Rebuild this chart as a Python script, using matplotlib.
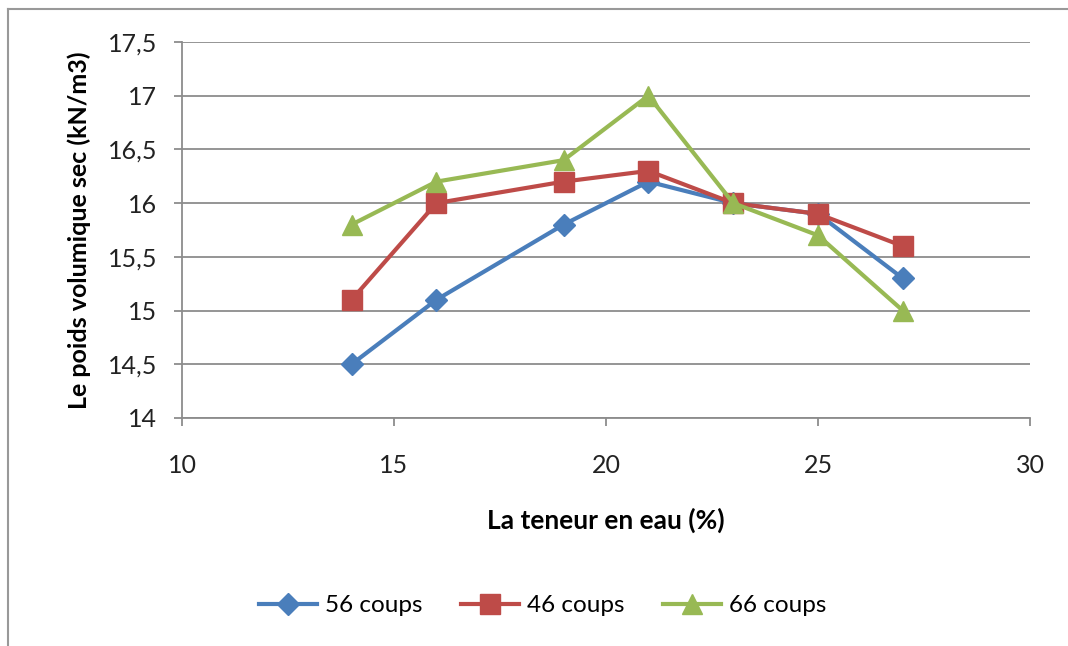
import numpy as np
import matplotlib
matplotlib.use("Agg")
import matplotlib.pyplot as plt
from matplotlib.lines import Line2D
from matplotlib.ticker import FuncFormatter

# data
teneur = [14, 16, 19, 21, 23, 25, 27]
coups56 = [14.5, 15.1, 15.8, 16.2, 16.0, 15.9, 15.3]
coups46 = [15.1, 16.0, 16.2, 16.3, 16.0, 15.9, 15.6]
coups66 = [15.8, 16.2, 16.4, 17.0, 16.0, 15.7, 15.0]

plt.rcParams['font.family'] = ['Lato', 'DejaVu Sans']

fig = plt.figure(figsize=(10.68, 6.46), dpi=100)
ax = fig.add_axes([0.1704, 0.353, 0.794, 0.582])

grey = '#8c8c8c'
ax.plot(teneur, coups56, color='#4a7ebb', lw=3, marker='D', ms=11, label='56 coups', zorder=3)
ax.plot(teneur, coups46, color='#be4b48', lw=3, marker='s', ms=14, label='46 coups', zorder=3)
ax.plot(teneur, coups66, color='#98b954', lw=3, marker='^', ms=15, label='66 coups', zorder=3)

ax.set_xlim(10, 30)
ax.set_ylim(14, 17.5)
ax.set_xticks(np.arange(10, 31, 5))
ax.set_yticks(np.arange(14, 17.51, 0.5))
ax.yaxis.set_major_formatter(FuncFormatter(lambda v, p: ('%g' % v).replace('.', ',')))
ax.grid(axis='y', color=grey, lw=1.3)
ax.set_axisbelow(True)

for s in ['top', 'right']:
    ax.spines[s].set_visible(False)
for s in ['left', 'bottom']:
    ax.spines[s].set_color(grey)
    ax.spines[s].set_linewidth(1.3)
ax.tick_params(axis='both', direction='out', length=6, width=1.3, color=grey,
               labelsize=18, labelcolor='#222222')
ax.tick_params(axis='x', pad=20)
ax.tick_params(axis='y', pad=12)

ax.set_xlabel('La teneur en eau (%)', fontsize=19, fontweight='bold', labelpad=22)
ax.set_ylabel('Le poids volumique sec (kN/m3)', fontsize=18, fontweight='bold', labelpad=12)

fig.legend(loc='center', bbox_to_anchor=(0.508, 0.062), ncol=3, frameon=False,
           fontsize=17.5, handlelength=2.4, columnspacing=1.6, handletextpad=0.3)

# thin frame around the chart area
fig.add_artist(Line2D([0.0075, 1], [0.986, 0.986], color='#999999', lw=1.5, transform=fig.transFigure))
fig.add_artist(Line2D([0.0075, 0.0075], [0, 0.986], color='#999999', lw=1.5, transform=fig.transFigure))

fig.savefig('out.png', dpi=100, facecolor='white')
